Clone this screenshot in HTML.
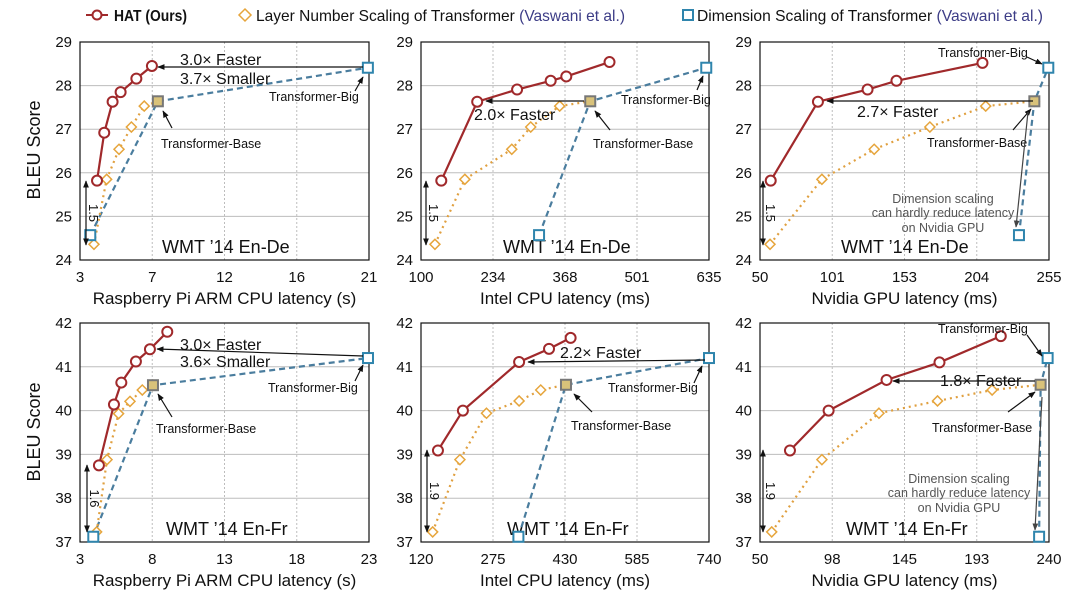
<!DOCTYPE html>
<html><head><meta charset="utf-8"><style>
html,body{margin:0;padding:0;background:#fff;}
svg{display:block;font-family:"Liberation Sans",Arial,sans-serif;}
</style></head><body>
<svg id="chart" width="1077" height="599" viewBox="0 0 1077 599" xmlns="http://www.w3.org/2000/svg">
<defs>
<marker id="ah" viewBox="0 0 10 10" refX="9" refY="5" markerWidth="6" markerHeight="6" orient="auto-start-reverse"><path d="M0,1 L10,5 L0,9 z" fill="#111"/></marker>
<marker id="ahg" viewBox="0 0 10 10" refX="9" refY="5" markerWidth="6" markerHeight="6" orient="auto"><path d="M0,1 L10,5 L0,9 z" fill="#444"/></marker>
</defs>
<g id="legend">
  <g>
    <line x1="86" y1="15" x2="108" y2="15" stroke="#a0292b" stroke-width="2"/>
    <circle cx="97" cy="15" r="4.5" fill="#fff" stroke="#a0292b" stroke-width="2"/>
    <text x="114" y="21" font-size="16" font-weight="bold" fill="#111" textLength="73" lengthAdjust="spacingAndGlyphs">HAT (Ours)</text>
  </g>
  <g>
    <path d="M245,9 L251,15 L245,21 L239,15 z" fill="#fff" stroke="#e6a53c" stroke-width="1.5"/>
    <text x="256" y="21" font-size="16" fill="#111" textLength="369" lengthAdjust="spacingAndGlyphs">Layer Number Scaling of Transformer <tspan fill="#3c3c86">(Vaswani et al.)</tspan></text>
  </g>
  <g>
    <rect x="683" y="10" width="10" height="10" fill="#fff" stroke="#2f85ad" stroke-width="2"/>
    <text x="697" y="21" font-size="16" fill="#111" textLength="346" lengthAdjust="spacingAndGlyphs">Dimension Scaling of Transformer <tspan fill="#3c3c86">(Vaswani et al.)</tspan></text>
  </g>
</g>
<text transform="translate(40,150) rotate(-90)" text-anchor="middle" font-size="18" fill="#111">BLEU Score</text>
<text transform="translate(40,432) rotate(-90)" text-anchor="middle" font-size="18" fill="#111">BLEU Score</text>
<g id="panels"></g>
<g id="annot"></g>
</svg>
<script>
// ---- data ----
const panelTitles = ["WMT \u201914 En-De","WMT \u201914 En-De","WMT \u201914 En-De","WMT \u201914 En-Fr","WMT \u201914 En-Fr","WMT \u201914 En-Fr"];
const xAxisTitles = ["Raspberry Pi ARM CPU latency (s)","Intel CPU latency (ms)","Nvidia GPU latency (ms)","Raspberry Pi ARM CPU latency (s)","Intel CPU latency (ms)","Nvidia GPU latency (ms)"];
const xDomains = [[3,21],[100,635],[50,255],[3,23],[120,740],[50,240]];
const yDomains = [[24,29],[24,29],[24,29],[37,42],[37,42],[37,42]];
const xTickLabels = [["3","7","12","16","21"],["100","234","368","501","635"],["50","101","153","204","255"],["3","8","13","18","23"],["120","275","430","585","740"],["50","98","145","193","240"]];
const yTickLabelsTop = ["24","25","26","27","28","29"];
const yTickLabelsBottom = ["37","38","39","40","41","42"];
const hatLatency = [[4.06,4.51,5.03,5.53,6.51,7.48],[137.7,204.4,278.5,340.9,369.9,450.2],[57.6,91.1,126.3,146.8,207.8],[4.31,5.35,5.86,6.87,7.84,9.04],[156.5,210.2,331.2,395.6,442.1],[69.7,95.1,133.2,168.0,208.3]];
const hatBleu = [[25.82,26.92,27.63,27.85,28.16,28.45],[25.82,27.63,27.91,28.11,28.21,28.54],[25.82,27.63,27.91,28.11,28.52],[38.75,40.14,40.64,41.12,41.40,41.80],[39.09,40.0,41.11,41.41,41.66],[39.09,40.0,40.70,41.10,41.70]];
const layerLatency = [[3.87,4.66,5.43,6.20,7.00,7.85],[125.9,181.5,268.6,303.8,357.6,414.4],[57.1,93.9,131.0,170.5,210.1,244.6],[4.15,4.87,5.67,6.46,7.31,8.05],[145.1,203.8,261.0,331.2,377.7,432.1],[57.7,90.7,128.2,166.7,202.6,234.5]];
const layerBleu = [[24.36,25.85,26.54,27.05,27.53,27.64],[24.36,25.85,26.54,27.05,27.53,27.64],[24.36,25.85,26.54,27.05,27.53,27.64],[37.23,38.88,39.93,40.21,40.47,40.58],[37.23,38.88,39.94,40.22,40.47,40.59],[37.23,38.88,39.94,40.22,40.47,40.59]];
const dimLatency = [[3.64,7.85,20.93],[319.3,414.4,629.9],[233.7,244.6,254.5],[3.92,8.05,22.93],[329.7,432.1,740],[233.5,234.5,239.1]];
const dimBleu = [[24.57,27.64,28.41],[24.57,27.64,28.41],[24.57,27.64,28.41],[37.12,40.58,41.20],[37.12,40.59,41.20],[37.12,40.59,41.20]];

const NS="http://www.w3.org/2000/svg";
function mk(tag, attrs, parent){const e=document.createElementNS(NS,tag);for(const k in attrs)e.setAttribute(k,attrs[k]);if(parent)parent.appendChild(e);return e;}
const boxes=[[80,369,42,260],[421,709,42,260],[760,1049,42,260],[80,369,323,542],[421,709,323,542],[760,1049,323,542]];
const root=document.getElementById('panels');
for(let p=0;p<6;p++){
  const [L,R,T,B]=boxes[p];
  const [x0,x1]=xDomains[p],[y0,y1]=yDomains[p];
  const xs=v=>L+(v-x0)/(x1-x0)*(R-L);
  const ys=v=>B-(v-y0)/(y1-y0)*(B-T);
  const g=mk('g',{},root);
  
  
  const yl=p<3?yTickLabelsTop:yTickLabelsBottom;
  for(let i=0;i<yl.length;i++){
    const v=y0+i*(y1-y0)/(yl.length-1), y=ys(v);
    if(i>0&&i<yl.length-1){const gl=mk('line',{x1:L,x2:R,y1:y,y2:y,stroke:'#bdbdbd','stroke-width':1},g);
      
      }
    const t=mk('text',{x:L-8,y:y+5,'text-anchor':'end','font-size':15,fill:'#111'},g);t.textContent=yl[i];
    
    
  }
  const xl=xTickLabels[p];
  for(let i=0;i<xl.length;i++){
    const x=L+i*(R-L)/(xl.length-1);
    if(i>0&&i<xl.length-1){const gl=mk('line',{x1:x,x2:x,y1:T,y2:B,stroke:'#bdbdbd','stroke-width':1,'stroke-dasharray':'2,2'},g);
      
      }
    const t=mk('text',{x:x,y:B+22,'text-anchor':'middle','font-size':15,fill:'#111'},g);t.textContent=xl[i];
    
    
  }
  const fr=mk('rect',{x:L,y:T,width:R-L,height:B-T,fill:'none',stroke:'#111','stroke-width':1.2},g);
  
  
  const xt=mk('text',{x:(L+R)/2,y:B+44,'text-anchor':'middle','font-size':17,fill:'#111'},g);xt.textContent=xAxisTitles[p];
  
  
  const titleX=[162,503,841,166,507,846][p];
  const pt=mk('text',{x:titleX,y:B-7,'font-size':18,fill:'#111'},g);pt.textContent=panelTitles[p];
  
  
  const dl=mk('polyline',{points:dimLatency[p].map((v,i)=>xs(v)+','+ys(dimBleu[p][i])).join(' '),fill:'none',stroke:'#4a7d9e','stroke-width':2.2,'stroke-dasharray':'6,4'},g);
  
  
  const ll=mk('polyline',{points:layerLatency[p].map((v,i)=>xs(v)+','+ys(layerBleu[p][i])).join(' '),fill:'none',stroke:'#e0a040','stroke-width':2.2,'stroke-dasharray':'2,4'},g);
  
  
  const hl=mk('polyline',{points:hatLatency[p].map((v,i)=>xs(v)+','+ys(hatBleu[p][i])).join(' '),fill:'none',stroke:'#a0292b','stroke-width':2.2},g);
  
  
  layerLatency[p].forEach((v,i)=>{const x=xs(v),y=ys(layerBleu[p][i]);
    const m=mk('path',{d:`M${x},${y-5} L${x+5},${y} L${x},${y+5} L${x-5},${y} z`,fill:'#fff',stroke:'#e6a53c','stroke-width':1.5},g);
    
    });
  dimLatency[p].forEach((v,i)=>{const x=xs(v),y=ys(dimBleu[p][i]);
    const m=mk('rect',{x:x-5,y:y-5,width:10,height:10,fill:i==1?'#d9c27a':'#fff',stroke:i==1?'#777':'#2f85ad','stroke-width':2},g);
    
    });
  hatLatency[p].forEach((v,i)=>{const x=xs(v),y=ys(hatBleu[p][i]);
    const m=mk('circle',{cx:x,cy:y,r:5,fill:'#fff',stroke:'#a0292b','stroke-width':2},g);
    
    });
}
// ---- annotations ----
const A=document.getElementById('annot');
function arrow(x1,y1,x2,y2,gray){const l=mk('line',{x1,y1,x2,y2,stroke:gray?'#444':'#111','stroke-width':1.2,'marker-end':gray?'url(#ahg)':'url(#ah)'},A);
  
  }
function txt(x,y,s,size,color,anchor){const t=mk('text',{x,y,'font-size':size,fill:color||'#111','text-anchor':anchor||'start'},A);t.textContent=s;
  
  }
function gap(x,ya,yb,lab){const l=mk('line',{x1:x,y1:yb,x2:x,y2:ya,stroke:'#111','stroke-width':1.2,'marker-end':'url(#ah)','marker-start':'url(#ah)'},A);
  
  
  const t=mk('text',{transform:`translate(${x+3},${(ya+yb)/2}) rotate(90)`,'text-anchor':'middle','font-size':13,fill:'#111'},A);t.textContent=lab;
  
  }
txt(180,65,"3.0\u00d7 Faster",16);txt(180,84,"3.7\u00d7 Smaller",16);arrow(363,67,158,67);
txt(269,101,"Transformer-Big",12.5);arrow(355,91,363,77);
txt(161,148,"Transformer-Base",12.5);arrow(172,128,163,111);gap(86,181,245,"1.5");
txt(474,120,"2.0\u00d7 Faster",16);arrow(584,101,486,101);
txt(621,104,"Transformer-Big",12.5);arrow(697,90,703,76);
txt(593,148,"Transformer-Base",12.5);arrow(610,130,595,111);gap(426,181,245,"1.5");
txt(857,117,"2.7\u00d7 Faster",16);arrow(1033,101,827,101);
txt(938,57,"Transformer-Big",12.5);arrow(1027,57,1042,64);
txt(927,147,"Transformer-Base",12.5);arrow(1013,130,1031,109);
txt(943,203,"Dimension scaling",12.5,'#555','middle');txt(943,217,"can hardly reduce latency",12.5,'#555','middle');txt(943,232,"on Nvidia GPU",12.5,'#555','middle');
arrow(1028,112,1016,227,true);gap(763,181,245,"1.5");
txt(180,350,"3.0\u00d7 Faster",16);txt(180,367,"3.6\u00d7 Smaller",16);arrow(363,356,157,349);
txt(268,392,"Transformer-Big",12.5);arrow(355,381,363,365);
txt(156,433,"Transformer-Base",12.5);arrow(172,417,158,394);gap(87,465,532,"1.6");
txt(560,358,"2.2\u00d7 Faster",16);arrow(705,360,528,362);
txt(608,392,"Transformer-Big",12.5);arrow(694,383,702,366);
txt(571,430,"Transformer-Base",12.5);arrow(592,412,574,394);gap(427,450,532,"1.9");
txt(940,386,"1.8\u00d7 Faster",16);arrow(1035,381,893,381);
txt(938,333,"Transformer-Big",12.5);arrow(1027,335,1042,356);
txt(932,432,"Transformer-Base",12.5);arrow(1008,412,1035,392);
txt(959,483,"Dimension scaling",12.5,'#555','middle');txt(959,497,"can hardly reduce latency",12.5,'#555','middle');txt(959,512,"on Nvidia GPU",12.5,'#555','middle');
arrow(1042,397,1035,530,true);gap(763,450,532,"1.9");
</script>
</body></html>
